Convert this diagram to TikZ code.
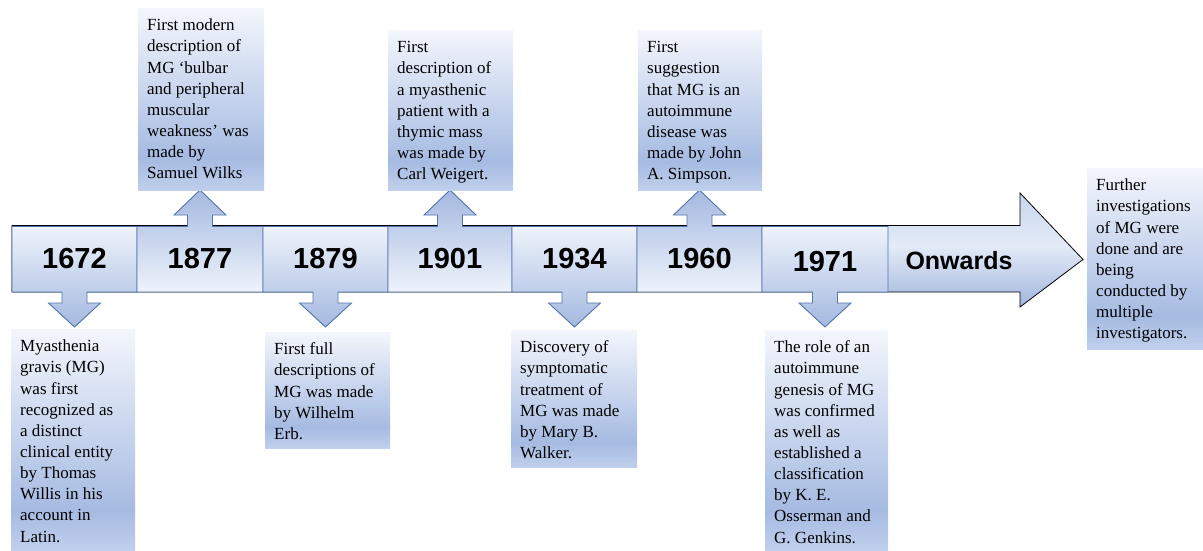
\documentclass[tikz,border=0pt]{standalone}
\usepackage{fontspec}
\setmainfont{Liberation Serif}
\setsansfont{Liberation Sans}
\newfontfamily\boxserif{Liberation Serif}
\newfontfamily\yearsans{Liberation Sans}
\definecolor{cbord}{RGB}{84,116,172}
\definecolor{cdark}{RGB}{164,185,224}
\definecolor{clight}{RGB}{238,243,251}
\definecolor{tbdark}{RGB}{166,187,226}
\definecolor{tblight}{RGB}{243,246,252}
\definecolor{tbbot}{RGB}{192,207,236}
\definecolor{btop}{RGB}{200,213,238}
\definecolor{bmid}{RGB}{228,235,247}
\definecolor{bbot}{RGB}{160,182,222}
\pgfdeclareverticalshading{tbshade}{100bp}{color(0bp)=(tbbot); color(25bp)=(tbbot); color(34bp)=(tbdark); color(75bp)=(tblight); color(100bp)=(tblight)}
\pgfdeclareverticalshading{downshade}{100bp}{color(0bp)=(cdark); color(25bp)=(cdark); color(75bp)=(clight); color(100bp)=(clight)}
\pgfdeclareverticalshading{upshade}{100bp}{color(0bp)=(clight); color(25bp)=(clight); color(75bp)=(cdark); color(100bp)=(cdark)}
\pgfdeclareverticalshading{bigshade}{100bp}{color(0bp)=(bbot); color(25bp)=(bbot); color(52bp)=(bmid); color(75bp)=(btop); color(100bp)=(btop)}
\tikzset{
  year/.style={font=\yearsans\bfseries\fontsize{29}{32}\selectfont, inner sep=0pt, minimum width=125pt, minimum height=66pt},
  tb/.style={shading=tbshade, inner sep=0pt, anchor=north west, font=\boxserif},
  callbox/.style={draw=cbord, line width=0.9pt},
}
\newcommand\calldown[3]{%
  \path[callbox, shading=downshade] (#1,226.5) -- (#2,226.5) -- (#2,292) -- (#3+12.5,292) -- (#3+12.5,303) -- (#3+26,303) -- (#3,327) -- (#3-26,303) -- (#3-12.5,303) -- (#3-12.5,292) -- (#1,292) -- cycle;}
\newcommand\callup[3]{%
  \path[callbox, shading=upshade] (#1,292) -- (#1,226.5) -- (#3-12.5,226.5) -- (#3-12.5,215) -- (#3-26,215) -- (#3,190) -- (#3+26,215) -- (#3+12.5,215) -- (#3+12.5,226.5) -- (#2,226.5) -- (#2,292) -- cycle;}
\newcommand\tbox[6]{%
  \node[tb, minimum width=#4pt, minimum height=#5pt] (#1) at (#2,#3) {\begin{minipage}[c][#5pt][t]{#4pt}\boxserif\fontsize{17}{21.15}\selectfont\raggedright\leftskip=9pt\parindent=0pt\rule{0pt}{22.5pt}#6\end{minipage}};}
\begin{document}
\begin{tikzpicture}[x=1pt,y=-1pt]
\useasboundingbox (0,0) rectangle (1203,550);
% main timeline arrow
\path[draw=black, line width=0.8pt, shading=bigshade] (12,225.5) -- (1020,225.5) -- (1020,193) -- (1083,259.5) -- (1020,307) -- (1020,292) -- (12,292) -- cycle;
% callouts
\calldown{12}{137}{74.5}
\callup{137}{263}{200}
\calldown{263}{388}{325.5}
\callup{388}{512}{450}
\calldown{512}{637}{574.5}
\callup{637}{762}{699.5}
\calldown{762}{888}{825}
% year labels
\node[year] (y1672) at (74.5,259) {1672};
\node[year] (y1877) at (200,259) {1877};
\node[year] (y1879) at (325.5,258.5) {1879};
\node[year] (y1901) at (450,259) {1901};
\node[year] (y1934) at (574.5,258.5) {1934};
\node[year] (y1960) at (699.5,258.5) {1960};
\node[year] (y1971) at (825,262) {1971};
\node[font=\yearsans\bfseries\fontsize{25}{28}\selectfont, inner sep=0pt] (onw) at (959,260.5) {Onwards};
% text boxes
\tbox{t1672}{11}{329}{124}{221}{Myasthenia\\gravis (MG)\\was first\\recognized as\\a distinct\\clinical entity\\by Thomas\\Willis in his\\account in\\Latin.}
\tbox{t1877}{138}{8}{126}{182}{First modern\\description of\\MG ‘bulbar\\and peripheral\\muscular\\weakness’ was\\made by\\Samuel Wilks}
\tbox{t1879}{265}{332}{125}{116}{First full\\descriptions of\\MG was made\\by Wilhelm\\Erb.}
\tbox{t1901}{388}{30}{125}{160}{First\\description of\\a myasthenic\\patient with a\\thymic mass\\was made by\\Carl Weigert.}
\tbox{t1934}{511}{330}{126}{137}{Discovery of\\symptomatic\\treatment of\\MG was made\\by Mary B.\\Walker.}
\tbox{t1960}{638}{30}{124}{160}{First\\suggestion\\that MG is an\\autoimmune\\disease was\\made by John\\A. Simpson.}
\tbox{t1971}{765}{330}{123}{220}{The role of an\\autoimmune\\genesis of MG\\was confirmed\\as well as\\established a\\classification\\by K. E.\\Osserman and\\G. Genkins.}
\tbox{tfur}{1087}{168}{116}{181}{Further\\investigations\\of MG were\\done and are\\being\\conducted by\\multiple\\investigators.}
\end{tikzpicture}
\end{document}
